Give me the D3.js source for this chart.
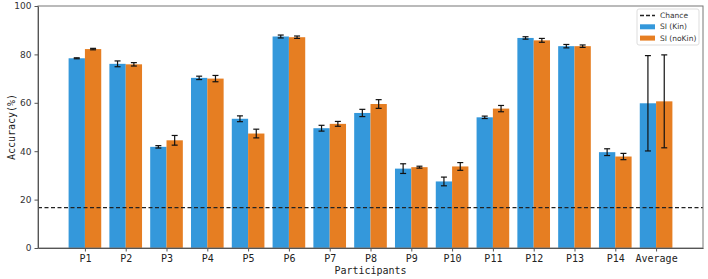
<!DOCTYPE html>
<html>
<head>
<meta charset="utf-8">
<script src="https://cdn.jsdelivr.net/npm/d3@7"></script>
<style>
  body { margin: 0; background: #fff; }
</style>
</head>
<body>
<div id="chart"></div>
<script>
const participants = ["P1","P2","P3","P4","P5","P6","P7","P8","P9","P10","P11","P12","P13","P14","Average"];
const kinMean   = [78.4, 76.1, 41.8, 70.3, 53.4, 87.4, 49.5, 55.8, 32.8, 27.5, 54.0, 86.8, 83.4, 39.6, 59.8];
const kinErr    = [0.2, 1.2, 0.5, 0.7, 1.2, 0.6, 1.2, 1.5, 2.0, 1.8, 0.5, 0.5, 0.7, 1.4, 19.7];
const nokinMean = [82.2, 75.9, 44.5, 70.0, 47.3, 87.1, 51.3, 59.5, 33.4, 33.7, 57.6, 85.8, 83.4, 37.8, 60.6];
const nokinErr  = [0.3, 0.7, 2.0, 1.3, 1.8, 0.5, 1.0, 1.8, 0.4, 1.6, 1.3, 0.8, 0.5, 1.3, 19.2];
const chance = 100 / 6;
const yTicks = [0, 20, 40, 60, 80, 100];
const seriesNames = ["SI (Kin)", "SI (noKin)"];

const width = 708, height = 279;
const margin = {top: 6, bottom: 31, left: 38, right: 5};

const svg = d3.select("#chart")
  .append("svg")
  .attr("width", width)
  .attr("height", height);

const x = d3.scaleLinear()
  .domain([-1.15, participants.length - 1 + 1.15])
  .range([margin.left, width - margin.right]);

const y = d3.scaleLinear()
  .domain([0, 100])
  .range([height - margin.bottom, margin.top]);

const color = d3.scaleOrdinal()
  .domain(seriesNames)
  .range(["#3498db", "#e67e22"]);

const barW = x(0.4) - x(0);

// bars
const series = [
  {name: seriesNames[0], mean: kinMean, err: kinErr, off: -0.2},
  {name: seriesNames[1], mean: nokinMean, err: nokinErr, off: 0.2}
];

series.forEach(s => {
  svg.append("g").selectAll("rect")
    .data(participants)
    .enter()
    .append("rect")
    .attr("x", (d, i) => x(i + s.off) - barW / 2)
    .attr("y", (d, i) => y(s.mean[i]))
    .attr("width", barW)
    .attr("height", (d, i) => y(0) - y(s.mean[i]))
    .attr("fill", color(s.name));
});

// error bars
series.forEach(s => {
  const g = svg.append("g").attr("stroke", "#111").attr("stroke-width", 1.2);
  participants.forEach((p, i) => {
    const cx = x(i + s.off);
    const lo = y(s.mean[i] - s.err[i]), hi = y(s.mean[i] + s.err[i]);
    g.append("line").attr("x1", cx).attr("x2", cx).attr("y1", lo).attr("y2", hi);
    g.append("line").attr("x1", cx - 3).attr("x2", cx + 3).attr("y1", lo).attr("y2", lo);
    g.append("line").attr("x1", cx - 3).attr("x2", cx + 3).attr("y1", hi).attr("y2", hi);
  });
});

// chance line
svg.append("line")
  .attr("x1", margin.left)
  .attr("x2", width - margin.right)
  .attr("y1", y(chance))
  .attr("y2", y(chance))
  .attr("stroke", "#222")
  .attr("stroke-width", 1.3)
  .attr("stroke-dasharray", "4,2.5");

// frame
svg.append("rect")
  .attr("x", margin.left)
  .attr("y", margin.top)
  .attr("width", width - margin.left - margin.right)
  .attr("height", height - margin.top - margin.bottom)
  .attr("fill", "none")
  .attr("stroke", "#777")
  .attr("stroke-width", 1);

// axes
const xAxis = svg.append("g")
  .attr("transform", `translate(0,${y(0)})`)
  .call(d3.axisBottom(x).tickValues(d3.range(participants.length))
    .tickFormat(i => participants[i]).tickSize(3.5).tickSizeOuter(0));
xAxis.select(".domain").attr("stroke", "#555");
xAxis.selectAll(".tick line").attr("stroke", "#555");
xAxis.selectAll("text")
  .attr("fill", "#222")
  .style("font-family", "DejaVu Sans Mono")
  .style("font-size", "10px")
  .attr("dy", "0.75em");

const yAxis = svg.append("g")
  .attr("transform", `translate(${margin.left},0)`)
  .call(d3.axisLeft(y).tickValues(yTicks).tickSize(3.5).tickSizeOuter(0));
yAxis.select(".domain").attr("stroke", "#555");
yAxis.selectAll(".tick line").attr("stroke", "#555");
yAxis.selectAll("text")
  .attr("fill", "#333")
  .style("font-family", "DejaVu Sans")
  .style("font-size", "9px");

// axis titles
svg.append("text")
  .attr("x", (margin.left + width - margin.right) / 2)
  .attr("y", 274)
  .style("text-anchor", "middle")
  .style("font-family", "DejaVu Sans Mono")
  .style("font-size", "10px")
  .attr("fill", "#222")
  .text("Participants");

svg.append("text")
  .attr("transform", "rotate(-90)")
  .attr("x", -(margin.top + height - margin.bottom) / 2)
  .attr("y", 15)
  .style("text-anchor", "middle")
  .style("font-family", "DejaVu Sans Mono")
  .style("font-size", "10px")
  .attr("fill", "#222")
  .text("Accuracy(%)");

// legend
const legend = svg.append("g")
  .attr("transform", `translate(${width - 71}, 9)`);

legend.append("rect")
  .attr("width", 62)
  .attr("height", 36)
  .attr("rx", 2)
  .attr("fill", "#fff")
  .attr("fill-opacity", 0.8)
  .attr("stroke", "#ddd");

const legendItems = ["Chance"].concat(seriesNames);
legendItems.forEach((name, i) => {
  const ly = 6.5 + i * 11.3;
  if (i === 0) {
    legend.append("line")
      .attr("x1", 3).attr("x2", 18)
      .attr("y1", ly).attr("y2", ly)
      .attr("stroke", "#222")
      .attr("stroke-width", 1.3)
      .attr("stroke-dasharray", "4,2");
  } else {
    legend.append("rect")
      .attr("x", 3).attr("y", ly - 2.5)
      .attr("width", 15).attr("height", 5)
      .attr("fill", color(name));
  }
  legend.append("text")
    .attr("x", 23)
    .attr("y", ly)
    .attr("dy", "0.35em")
    .style("font-family", "DejaVu Sans")
    .style("font-size", "7.5px")
    .attr("fill", "#333")
    .text(name);
});
</script>
</body>
</html>
